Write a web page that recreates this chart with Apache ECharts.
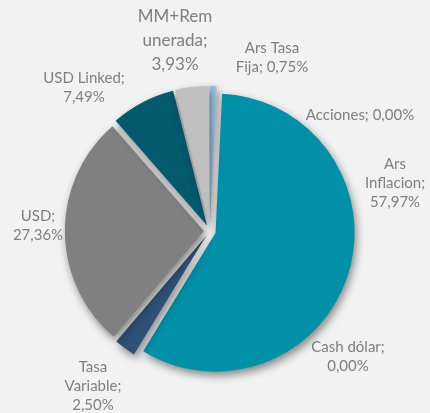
<!DOCTYPE html>
<html>
<head>
<meta charset="utf-8">
<script src="https://cdn.jsdelivr.net/npm/echarts@6/dist/echarts.min.js"></script>
<style>
  html, body { margin: 0; padding: 0; background: #f2f2f2; }
  #chart { width: 430px; height: 413px; }
</style>
</head>
<body>
<div id="chart"></div>
<script>
// data, clockwise from 12 o'clock
var names = ['Ars Tasa Fija', 'Acciones', 'Ars Inflacion', 'Cash dólar', 'Tasa Variable', 'USD', 'USD Linked', 'MM+Remunerada'];
var values = [0.75, 0.00, 57.97, 0.00, 2.50, 27.36, 7.49, 3.93];
// how the names wrap in the labels
var labelNames = ['Ars Tasa\nFija;', 'Acciones;', 'Ars\nInflacion;', 'Cash dólar;', 'Tasa\nVariable;', 'USD;', 'USD Linked;', 'MM+Rem\nunerada;'];
var valueBreak = [' ', ' ', '\n', '\n', '\n', '\n', '\n', '\n'];

var colors = ['#9dc3e6', '#4472c4', '#0090a8', '#ed7d31', '#2e5077', '#808080', '#025a6c', '#bfbfbf'];
// label centres, pixels
var labelPos = [[272, 58], [360, 115], [395, 183], [348, 357], [93, 386], [38, 226], [84, 88], [175, 41]];

var chart = echarts.init(document.getElementById('chart'));

var sliceData = [];
var labelData = [];
for (var i = 0; i < names.length; i++) {
    sliceData.push({
        name: names[i],
        value: values[i],
        selected: true,
        itemStyle: { color: colors[i] }
    });
    labelData.push({
        name: names[i],
        value: values[i],
        label: i === 7 ? { fontSize: 17, lineHeight: 24 } : {}
    });
}

var center = ['48.8%', '55.9%'];

chart.setOption({
    backgroundColor: '#f2f2f2',
    animation: false,
    series: [{
        type: 'pie',
        center: center,
        radius: 139,
        startAngle: 90,
        clockwise: true,
        selectedMode: 'multiple',
        selectedOffset: 6,
        silent: true,
        data: sliceData,
        itemStyle: {
            shadowBlur: 8,
            shadowColor: 'rgba(0,0,0,0.45)',
            shadowOffsetX: 2,
            shadowOffsetY: 4
        },
        label: { show: false },
        labelLine: { show: false }
    }, {
        // same pie again, invisible, only to carry the labels
        type: 'pie',
        center: center,
        radius: 139,
        startAngle: 90,
        clockwise: true,
        silent: true,
        data: labelData,
        itemStyle: { color: 'rgba(0,0,0,0)' },
        label: {
            show: true,
            position: 'outside',
            color: '#7f7f7f',
            fontFamily: 'Lato',
            fontSize: 15,
            lineHeight: 19,
            align: 'center',
            overflow: 'none',
            formatter: function (p) {
                var v = p.value.toFixed(2).replace('.', ',') + '%';
                return labelNames[p.dataIndex] + valueBreak[p.dataIndex] + v;
            }
        },
        labelLine: { show: false },
        labelLayout: function (p) {
            var pos = labelPos[p.dataIndex];
            return { x: pos[0], y: pos[1], align: 'center', verticalAlign: 'middle' };
        }
    }]
});
</script>
</body>
</html>
